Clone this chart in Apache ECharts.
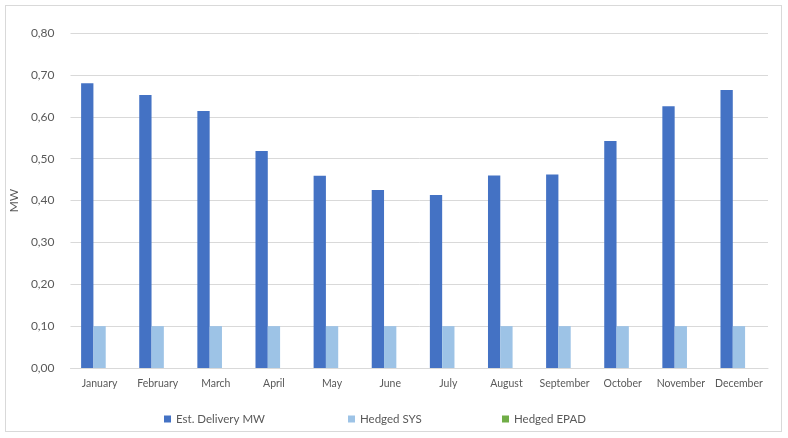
<!DOCTYPE html>
<html><head><meta charset="utf-8">
<script src="https://cdn.jsdelivr.net/npm/echarts@6/dist/echarts.min.js"></script>
<style>
html,body{margin:0;padding:0;background:#fff;}
#frame{position:absolute;left:5px;top:5px;width:777px;height:427px;border:1px solid #d9d9d9;box-sizing:border-box;}
#chart{position:absolute;left:0;top:0;width:788px;height:438px;}
</style></head>
<body><div id="frame"></div><div id="chart"></div>
<script>
const categories = ['January','February','March','April','May','June','July','August','September','October','November','December'];
const estDelivery = [0.680, 0.652, 0.614, 0.518, 0.459, 0.425, 0.413, 0.460, 0.462, 0.542, 0.625, 0.664];
const hedgedSys = [0.10, 0.10, 0.10, 0.10, 0.10, 0.10, 0.10, 0.10, 0.10, 0.10, 0.10, 0.10];
const hedgedEpad = [0, 0, 0, 0, 0, 0, 0, 0, 0, 0, 0, 0];
const seriesNames = ['Est. Delivery MW', 'Hedged SYS', 'Hedged EPAD'];
const colors = ['#4472c4', '#9dc3e6', '#70ad47'];

const chart = echarts.init(document.getElementById('chart'));
const font = 'Lato, "Open Sans", sans-serif';
const legendBase = {top: 408, itemWidth: 7, itemHeight: 7, icon: 'rect',
  textStyle: {color: '#595959', fontSize: 11.5, fontFamily: font}, itemGap: 4};
chart.setOption({
  animation: false,
  color: colors,
  textStyle: {fontFamily: font},
  legend: [
    Object.assign({left: 159, data: [seriesNames[0]]}, legendBase),
    Object.assign({left: 343, data: [seriesNames[1]]}, legendBase),
    Object.assign({left: 497, data: [seriesNames[2]]}, legendBase)
  ],
  grid: {left: 69, right: 20, top: 33, bottom: 70},
  xAxis: {
    type: 'category', data: categories,
    axisLine: {lineStyle: {color: '#d9d9d9'}},
    axisTick: {show: false},
    axisLabel: {color: '#595959', fontSize: 10.5, fontFamily: font, margin: 10, interval: 0}
  },
  yAxis: {
    type: 'value', min: 0, max: 0.8, interval: 0.1,
    name: 'MW', nameLocation: 'middle', nameGap: 43, nameRotate: 90,
    nameTextStyle: {color: '#595959', fontSize: 12, fontFamily: font},
    axisLine: {show: false}, axisTick: {show: false},
    splitLine: {lineStyle: {color: '#d9d9d9'}},
    axisLabel: {color: '#595959', fontSize: 12, fontFamily: font, margin: 16,
      formatter: v => v.toFixed(2).replace('.', ',')}
  },
  series: [
    {name: seriesNames[0], type: 'bar', data: estDelivery, barGap: '0%', barCategoryGap: '36.5%'},
    {name: seriesNames[1], type: 'bar', data: hedgedSys, barGap: '0%', barCategoryGap: '36.5%'},
    {name: seriesNames[2], type: 'bar', data: hedgedEpad, barGap: '0%', barCategoryGap: '36.5%'}
  ]
});
</script></body></html>
